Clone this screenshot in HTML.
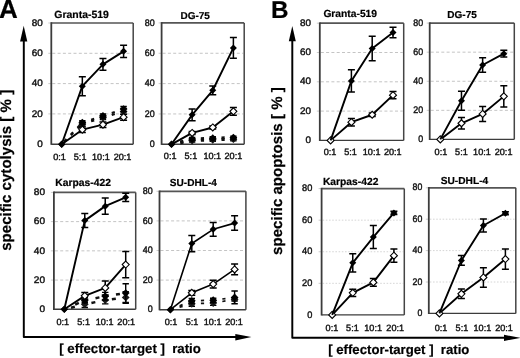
<!DOCTYPE html>
<html><head><meta charset="utf-8"><style>
html,body{margin:0;padding:0;background:#fff;overflow:hidden;}
svg{display:block;filter:grayscale(1);}
text{text-rendering:geometricPrecision;}
</style></head><body>
<svg width="520" height="358" viewBox="0 0 520 358">
<rect width="520" height="358" fill="#fff"/>
<line x1="48.3" y1="113.9" x2="51.3" y2="113.9" stroke="#ccc" stroke-width="1"/>
<line x1="52.3" y1="113.9" x2="132.2" y2="113.9" stroke="#c4c4c4" stroke-width="1" stroke-dasharray="3 2.3"/>
<line x1="48.3" y1="83.6" x2="51.3" y2="83.6" stroke="#ccc" stroke-width="1"/>
<line x1="52.3" y1="83.6" x2="132.2" y2="83.6" stroke="#c4c4c4" stroke-width="1" stroke-dasharray="3 2.3"/>
<line x1="48.3" y1="53.3" x2="51.3" y2="53.3" stroke="#ccc" stroke-width="1"/>
<line x1="52.3" y1="53.3" x2="132.2" y2="53.3" stroke="#c4c4c4" stroke-width="1" stroke-dasharray="3 2.3"/>
<line x1="48.3" y1="23" x2="51.3" y2="23" stroke="#ccc" stroke-width="1"/>
<line x1="51.3" y1="23" x2="133.2" y2="23" stroke="#555" stroke-width="1.7"/>
<line x1="133.2" y1="23" x2="133.2" y2="144.2" stroke="#454545" stroke-width="1.5"/>
<line x1="51.3" y1="22.2" x2="51.3" y2="144.8" stroke="#3c3c3c" stroke-width="1.8"/>
<line x1="51.3" y1="144.2" x2="133.2" y2="144.2" stroke="#3c3c3c" stroke-width="1.4"/>
<line x1="61.7" y1="144.2" x2="82.33" y2="124" stroke="#111" stroke-width="2.2" stroke-dasharray="3.2 6.3" stroke-dashoffset="-12.84"/>
<line x1="82.33" y1="124" x2="102.96" y2="117.6" stroke="#111" stroke-width="2.2" stroke-dasharray="3.2 6.3" stroke-dashoffset="-9.2"/>
<line x1="102.96" y1="117.6" x2="123.59" y2="111.4" stroke="#111" stroke-width="2.2" stroke-dasharray="3.2 6.3" stroke-dashoffset="-9.17"/>
<path d="M82.33,122V126M79.13,122H85.53M79.13,126H85.53" stroke="#000" stroke-width="1.4" fill="none"/>
<path d="M102.96,115.6V119.6M99.76,115.6H106.16M99.76,119.6H106.16" stroke="#000" stroke-width="1.4" fill="none"/>
<path d="M123.59,108.4V114.4M120.39,108.4H126.79M120.39,114.4H126.79" stroke="#000" stroke-width="1.4" fill="none"/>
<path d="M82.33,120.1L86.23,124L82.33,127.9L78.43,124Z" fill="#1a1a1a"/>
<path d="M102.96,113.7L106.86,117.6L102.96,121.5L99.06,117.6Z" fill="#1a1a1a"/>
<path d="M123.59,107.5L127.49,111.4L123.59,115.3L119.69,111.4Z" fill="#1a1a1a"/>
<line x1="61.7" y1="144.2" x2="82.33" y2="122.6" stroke="#111" stroke-width="2.2" stroke-dasharray="3.2 6.3" stroke-dashoffset="-13.33"/>
<line x1="82.33" y1="122.6" x2="102.96" y2="116" stroke="#111" stroke-width="2.2" stroke-dasharray="3.2 6.3" stroke-dashoffset="-9.23"/>
<line x1="102.96" y1="116" x2="123.59" y2="109.1" stroke="#111" stroke-width="2.2" stroke-dasharray="3.2 6.3" stroke-dashoffset="-9.28"/>
<path d="M82.33,120.6V124.6M79.13,120.6H85.53M79.13,124.6H85.53" stroke="#000" stroke-width="1.4" fill="none"/>
<path d="M102.96,114V118M99.76,114H106.16M99.76,118H106.16" stroke="#000" stroke-width="1.4" fill="none"/>
<path d="M123.59,106.5V111.7M120.39,106.5H126.79M120.39,111.7H126.79" stroke="#000" stroke-width="1.4" fill="none"/>
<path d="M82.33,118.7L86.23,122.6L82.33,126.5L78.43,122.6Z" fill="#000"/>
<path d="M102.96,112.1L106.86,116L102.96,119.9L99.06,116Z" fill="#000"/>
<path d="M123.59,105.2L127.49,109.1L123.59,113L119.69,109.1Z" fill="#000"/>
<polyline points="61.7,144.2 82.33,129.66 102.96,124.66 123.59,117.23" fill="none" stroke="#000" stroke-width="1.9" stroke-linejoin="round"/>
<path d="M82.33,126.93V132.38M78.83,126.93H85.83M78.83,132.38H85.83" stroke="#000" stroke-width="1.5" fill="none"/>
<path d="M102.96,121.93V127.38M99.46,121.93H106.46M99.46,127.38H106.46" stroke="#000" stroke-width="1.5" fill="none"/>
<path d="M123.59,114.2V120.26M120.09,114.2H127.09M120.09,120.26H127.09" stroke="#000" stroke-width="1.5" fill="none"/>
<path d="M82.33,126.16L85.83,129.66L82.33,133.16L78.83,129.66Z" fill="#fff" stroke="#000" stroke-width="1.1"/>
<path d="M102.96,121.16L106.46,124.66L102.96,128.16L99.46,124.66Z" fill="#fff" stroke="#000" stroke-width="1.1"/>
<path d="M123.59,113.73L127.09,117.23L123.59,120.73L120.09,117.23Z" fill="#fff" stroke="#000" stroke-width="1.1"/>
<polyline points="61.7,144.2 82.33,86.18 102.96,64.36 123.59,51.33" fill="none" stroke="#000" stroke-width="1.9" stroke-linejoin="round"/>
<path d="M82.33,76.63V95.72M78.83,76.63H85.83M78.83,95.72H85.83" stroke="#000" stroke-width="1.5" fill="none"/>
<path d="M102.96,58.45V70.27M99.46,58.45H106.46M99.46,70.27H106.46" stroke="#000" stroke-width="1.5" fill="none"/>
<path d="M123.59,45.27V57.39M120.09,45.27H127.09M120.09,57.39H127.09" stroke="#000" stroke-width="1.5" fill="none"/>
<path d="M61.7,140.7L65.2,144.2L61.7,147.7L58.2,144.2Z" fill="#000"/>
<path d="M82.33,82.68L85.83,86.18L82.33,89.68L78.83,86.18Z" fill="#000"/>
<path d="M102.96,60.86L106.46,64.36L102.96,67.86L99.46,64.36Z" fill="#000"/>
<path d="M123.59,47.83L127.09,51.33L123.59,54.83L120.09,51.33Z" fill="#000"/>
<path d="M61.7,140.5L65.4,144.2L61.7,147.9L58,144.2Z" fill="#000"/>
<line x1="158.6" y1="113.95" x2="161.6" y2="113.95" stroke="#ccc" stroke-width="1"/>
<line x1="162.6" y1="113.95" x2="243.2" y2="113.95" stroke="#c4c4c4" stroke-width="1" stroke-dasharray="3 2.3"/>
<line x1="158.6" y1="83.6" x2="161.6" y2="83.6" stroke="#ccc" stroke-width="1"/>
<line x1="162.6" y1="83.6" x2="243.2" y2="83.6" stroke="#c4c4c4" stroke-width="1" stroke-dasharray="3 2.3"/>
<line x1="158.6" y1="53.25" x2="161.6" y2="53.25" stroke="#ccc" stroke-width="1"/>
<line x1="162.6" y1="53.25" x2="243.2" y2="53.25" stroke="#c4c4c4" stroke-width="1" stroke-dasharray="3 2.3"/>
<line x1="158.6" y1="22.9" x2="161.6" y2="22.9" stroke="#ccc" stroke-width="1"/>
<line x1="161.6" y1="22.9" x2="244.2" y2="22.9" stroke="#555" stroke-width="1.7"/>
<line x1="244.2" y1="22.9" x2="244.2" y2="144.3" stroke="#454545" stroke-width="1.5"/>
<line x1="161.6" y1="22.1" x2="161.6" y2="144.9" stroke="#3c3c3c" stroke-width="1.8"/>
<line x1="161.6" y1="144.3" x2="244.2" y2="144.3" stroke="#3c3c3c" stroke-width="1.4"/>
<line x1="171.5" y1="144.3" x2="192.13" y2="140.6" stroke="#111" stroke-width="3.0" stroke-dasharray="3.2 6.3" stroke-dashoffset="-8.88"/>
<line x1="192.13" y1="140.6" x2="212.76" y2="139.8" stroke="#111" stroke-width="3.0" stroke-dasharray="3.2 6.3" stroke-dashoffset="-8.72"/>
<line x1="212.76" y1="139.8" x2="233.39" y2="139.2" stroke="#111" stroke-width="3.0" stroke-dasharray="3.2 6.3" stroke-dashoffset="-8.72"/>
<path d="M192.13,139.1V142.1M188.93,139.1H195.33M188.93,142.1H195.33" stroke="#000" stroke-width="1.4" fill="none"/>
<path d="M212.76,138.3V141.3M209.56,138.3H215.96M209.56,141.3H215.96" stroke="#000" stroke-width="1.4" fill="none"/>
<path d="M233.39,137.7V140.7M230.19,137.7H236.59M230.19,140.7H236.59" stroke="#000" stroke-width="1.4" fill="none"/>
<path d="M192.13,136.7L196.03,140.6L192.13,144.5L188.23,140.6Z" fill="#1a1a1a"/>
<path d="M212.76,135.9L216.66,139.8L212.76,143.7L208.86,139.8Z" fill="#1a1a1a"/>
<path d="M233.39,135.3L237.29,139.2L233.39,143.1L229.49,139.2Z" fill="#1a1a1a"/>
<line x1="171.5" y1="144.3" x2="192.13" y2="139" stroke="#111" stroke-width="3.0" stroke-dasharray="3.2 6.3" stroke-dashoffset="-9.05"/>
<line x1="192.13" y1="139" x2="212.76" y2="138.2" stroke="#111" stroke-width="3.0" stroke-dasharray="3.2 6.3" stroke-dashoffset="-8.72"/>
<line x1="212.76" y1="138.2" x2="233.39" y2="137.6" stroke="#111" stroke-width="3.0" stroke-dasharray="3.2 6.3" stroke-dashoffset="-8.72"/>
<path d="M192.13,137.5V140.5M188.93,137.5H195.33M188.93,140.5H195.33" stroke="#000" stroke-width="1.4" fill="none"/>
<path d="M212.76,136.7V139.7M209.56,136.7H215.96M209.56,139.7H215.96" stroke="#000" stroke-width="1.4" fill="none"/>
<path d="M233.39,136.1V139.1M230.19,136.1H236.59M230.19,139.1H236.59" stroke="#000" stroke-width="1.4" fill="none"/>
<path d="M192.13,135.1L196.03,139L192.13,142.9L188.23,139Z" fill="#000"/>
<path d="M212.76,134.3L216.66,138.2L212.76,142.1L208.86,138.2Z" fill="#000"/>
<path d="M233.39,133.7L237.29,137.6L233.39,141.5L229.49,137.6Z" fill="#000"/>
<polyline points="171.5,144.3 192.13,132.92 212.76,127.46 233.39,111.37" fill="none" stroke="#000" stroke-width="1.9" stroke-linejoin="round"/>
<path d="M192.13,131.4V134.44M188.63,131.4H195.63M188.63,134.44H195.63" stroke="#000" stroke-width="1.5" fill="none"/>
<path d="M212.76,125.94V128.97M209.26,125.94H216.26M209.26,128.97H216.26" stroke="#000" stroke-width="1.5" fill="none"/>
<path d="M233.39,107.58V115.16M229.89,107.58H236.89M229.89,115.16H236.89" stroke="#000" stroke-width="1.5" fill="none"/>
<path d="M192.13,129.42L195.63,132.92L192.13,136.42L188.63,132.92Z" fill="#fff" stroke="#000" stroke-width="1.1"/>
<path d="M212.76,123.96L216.26,127.46L212.76,130.96L209.26,127.46Z" fill="#fff" stroke="#000" stroke-width="1.1"/>
<path d="M233.39,107.87L236.89,111.37L233.39,114.87L229.89,111.37Z" fill="#fff" stroke="#000" stroke-width="1.1"/>
<polyline points="171.5,144.3 192.13,114.86 212.76,90.28 233.39,47.94" fill="none" stroke="#000" stroke-width="1.9" stroke-linejoin="round"/>
<path d="M192.13,109.09V120.63M188.63,109.09H195.63M188.63,120.63H195.63" stroke="#000" stroke-width="1.5" fill="none"/>
<path d="M212.76,85.88V94.68M209.26,85.88H216.26M209.26,94.68H216.26" stroke="#000" stroke-width="1.5" fill="none"/>
<path d="M233.39,37.62V58.26M229.89,37.62H236.89M229.89,58.26H236.89" stroke="#000" stroke-width="1.5" fill="none"/>
<path d="M171.5,140.8L175,144.3L171.5,147.8L168,144.3Z" fill="#000"/>
<path d="M192.13,111.36L195.63,114.86L192.13,118.36L188.63,114.86Z" fill="#000"/>
<path d="M212.76,86.78L216.26,90.28L212.76,93.78L209.26,90.28Z" fill="#000"/>
<path d="M233.39,44.44L236.89,47.94L233.39,51.44L229.89,47.94Z" fill="#000"/>
<path d="M171.5,140.6L175.2,144.3L171.5,148L167.8,144.3Z" fill="#000"/>
<line x1="50.9" y1="280.07" x2="53.9" y2="280.07" stroke="#ccc" stroke-width="1"/>
<line x1="54.9" y1="280.07" x2="134.7" y2="280.07" stroke="#c4c4c4" stroke-width="1" stroke-dasharray="3 2.3"/>
<line x1="50.9" y1="250.85" x2="53.9" y2="250.85" stroke="#ccc" stroke-width="1"/>
<line x1="54.9" y1="250.85" x2="134.7" y2="250.85" stroke="#c4c4c4" stroke-width="1" stroke-dasharray="3 2.3"/>
<line x1="50.9" y1="221.62" x2="53.9" y2="221.62" stroke="#ccc" stroke-width="1"/>
<line x1="54.9" y1="221.62" x2="134.7" y2="221.62" stroke="#c4c4c4" stroke-width="1" stroke-dasharray="3 2.3"/>
<line x1="50.9" y1="192.4" x2="53.9" y2="192.4" stroke="#ccc" stroke-width="1"/>
<line x1="53.9" y1="192.4" x2="135.7" y2="192.4" stroke="#555" stroke-width="1.7"/>
<line x1="135.7" y1="192.4" x2="135.7" y2="309.3" stroke="#454545" stroke-width="1.5"/>
<line x1="53.9" y1="191.6" x2="53.9" y2="309.9" stroke="#3c3c3c" stroke-width="1.8"/>
<line x1="53.9" y1="309.3" x2="135.7" y2="309.3" stroke="#3c3c3c" stroke-width="1.4"/>
<line x1="64.3" y1="309.3" x2="84.77" y2="304.3" stroke="#111" stroke-width="2.5" stroke-dasharray="4 9" stroke-dashoffset="-6.85"/>
<line x1="84.77" y1="304.3" x2="105.24" y2="300.1" stroke="#111" stroke-width="2.5" stroke-dasharray="4 9" stroke-dashoffset="-6.78"/>
<line x1="105.24" y1="300.1" x2="125.71" y2="297.4" stroke="#111" stroke-width="2.5" stroke-dasharray="4 9" stroke-dashoffset="-6.67"/>
<path d="M84.77,301.1V307.5M81.57,301.1H87.97M81.57,307.5H87.97" stroke="#000" stroke-width="1.4" fill="none"/>
<path d="M105.24,296.3V303.9M102.04,296.3H108.44M102.04,303.9H108.44" stroke="#000" stroke-width="1.4" fill="none"/>
<path d="M125.71,291.6V303.2M122.51,291.6H128.91M122.51,303.2H128.91" stroke="#000" stroke-width="1.4" fill="none"/>
<path d="M84.77,300.4L88.67,304.3L84.77,308.2L80.87,304.3Z" fill="#1a1a1a"/>
<path d="M105.24,296.2L109.14,300.1L105.24,304L101.34,300.1Z" fill="#1a1a1a"/>
<path d="M125.71,293.5L129.61,297.4L125.71,301.3L121.81,297.4Z" fill="#1a1a1a"/>
<line x1="64.3" y1="309.3" x2="84.77" y2="300.3" stroke="#111" stroke-width="2.5" stroke-dasharray="4 9" stroke-dashoffset="-11.86"/>
<line x1="84.77" y1="300.3" x2="105.24" y2="296.2" stroke="#111" stroke-width="2.5" stroke-dasharray="4 9" stroke-dashoffset="-10.94"/>
<line x1="105.24" y1="296.2" x2="125.71" y2="293.1" stroke="#111" stroke-width="2.5" stroke-dasharray="4 9" stroke-dashoffset="-10.84"/>
<path d="M84.77,297.8V302.8M81.57,297.8H87.97M81.57,302.8H87.97" stroke="#000" stroke-width="1.4" fill="none"/>
<path d="M105.24,292.4V300M102.04,292.4H108.44M102.04,300H108.44" stroke="#000" stroke-width="1.4" fill="none"/>
<path d="M125.71,283.7V302.5M122.51,283.7H128.91M122.51,302.5H128.91" stroke="#000" stroke-width="1.4" fill="none"/>
<path d="M84.77,296.4L88.67,300.3L84.77,304.2L80.87,300.3Z" fill="#000"/>
<path d="M105.24,292.3L109.14,296.2L105.24,300.1L101.34,296.2Z" fill="#000"/>
<path d="M125.71,289.2L129.61,293.1L125.71,297L121.81,293.1Z" fill="#000"/>
<polyline points="64.3,309.3 84.77,295.86 105.24,287.97 125.71,264.59" fill="none" stroke="#000" stroke-width="1.9" stroke-linejoin="round"/>
<path d="M84.77,292.5V299.22M81.27,292.5H88.27M81.27,299.22H88.27" stroke="#000" stroke-width="1.5" fill="none"/>
<path d="M105.24,280.95V294.98M101.74,280.95H108.74M101.74,294.98H108.74" stroke="#000" stroke-width="1.5" fill="none"/>
<path d="M125.71,251.43V277.74M122.21,251.43H129.21M122.21,277.74H129.21" stroke="#000" stroke-width="1.5" fill="none"/>
<path d="M84.77,292.36L88.27,295.86L84.77,299.36L81.27,295.86Z" fill="#fff" stroke="#000" stroke-width="1.1"/>
<path d="M105.24,284.47L108.74,287.97L105.24,291.47L101.74,287.97Z" fill="#fff" stroke="#000" stroke-width="1.1"/>
<path d="M125.71,261.09L129.21,264.59L125.71,268.09L122.21,264.59Z" fill="#fff" stroke="#000" stroke-width="1.1"/>
<polyline points="64.3,309.3 84.77,220.6 105.24,206.14 125.71,197.37" fill="none" stroke="#000" stroke-width="1.9" stroke-linejoin="round"/>
<path d="M84.77,213.59V227.62M81.27,213.59H88.27M81.27,227.62H88.27" stroke="#000" stroke-width="1.5" fill="none"/>
<path d="M105.24,198.1V214.17M101.74,198.1H108.74M101.74,214.17H108.74" stroke="#000" stroke-width="1.5" fill="none"/>
<path d="M125.71,193.13V201.61M122.21,193.13H129.21M122.21,201.61H129.21" stroke="#000" stroke-width="1.5" fill="none"/>
<path d="M64.3,305.8L67.8,309.3L64.3,312.8L60.8,309.3Z" fill="#000"/>
<path d="M84.77,217.1L88.27,220.6L84.77,224.1L81.27,220.6Z" fill="#000"/>
<path d="M105.24,202.64L108.74,206.14L105.24,209.64L101.74,206.14Z" fill="#000"/>
<path d="M125.71,193.87L129.21,197.37L125.71,200.87L122.21,197.37Z" fill="#000"/>
<path d="M64.3,305.6L68,309.3L64.3,313L60.6,309.3Z" fill="#000"/>
<line x1="156.5" y1="280.1" x2="159.5" y2="280.1" stroke="#ccc" stroke-width="1"/>
<line x1="160.5" y1="280.1" x2="244.9" y2="280.1" stroke="#c4c4c4" stroke-width="1" stroke-dasharray="3 2.3"/>
<line x1="156.5" y1="250.5" x2="159.5" y2="250.5" stroke="#ccc" stroke-width="1"/>
<line x1="160.5" y1="250.5" x2="244.9" y2="250.5" stroke="#c4c4c4" stroke-width="1" stroke-dasharray="3 2.3"/>
<line x1="156.5" y1="220.9" x2="159.5" y2="220.9" stroke="#ccc" stroke-width="1"/>
<line x1="160.5" y1="220.9" x2="244.9" y2="220.9" stroke="#c4c4c4" stroke-width="1" stroke-dasharray="3 2.3"/>
<line x1="156.5" y1="191.3" x2="159.5" y2="191.3" stroke="#ccc" stroke-width="1"/>
<line x1="159.5" y1="191.3" x2="245.9" y2="191.3" stroke="#555" stroke-width="1.7"/>
<line x1="245.9" y1="191.3" x2="245.9" y2="309.7" stroke="#454545" stroke-width="1.5"/>
<line x1="159.5" y1="190.5" x2="159.5" y2="310.3" stroke="#3c3c3c" stroke-width="1.8"/>
<line x1="159.5" y1="309.7" x2="245.9" y2="309.7" stroke="#3c3c3c" stroke-width="1.4"/>
<line x1="170.4" y1="309.7" x2="191.8" y2="303.8" stroke="#111" stroke-width="1.7" stroke-dasharray="3.2 6.3" stroke-dashoffset="-9.5"/>
<line x1="191.8" y1="303.8" x2="213.2" y2="303" stroke="#111" stroke-width="1.7" stroke-dasharray="3.2 6.3" stroke-dashoffset="-9.11"/>
<line x1="213.2" y1="303" x2="234.6" y2="299.4" stroke="#111" stroke-width="1.7" stroke-dasharray="3.2 6.3" stroke-dashoffset="-9.25"/>
<path d="M191.8,301.4V306.2M188.6,301.4H195M188.6,306.2H195" stroke="#000" stroke-width="1.4" fill="none"/>
<path d="M213.2,300.6V305.4M210,300.6H216.4M210,305.4H216.4" stroke="#000" stroke-width="1.4" fill="none"/>
<path d="M234.6,297.8V301M231.4,297.8H237.8M231.4,301H237.8" stroke="#000" stroke-width="1.4" fill="none"/>
<path d="M191.8,299.9L195.7,303.8L191.8,307.7L187.9,303.8Z" fill="#1a1a1a"/>
<path d="M213.2,299.1L217.1,303L213.2,306.9L209.3,303Z" fill="#1a1a1a"/>
<path d="M234.6,295.5L238.5,299.4L234.6,303.3L230.7,299.4Z" fill="#1a1a1a"/>
<line x1="170.4" y1="309.7" x2="191.8" y2="300.8" stroke="#111" stroke-width="1.7" stroke-dasharray="3.2 6.3" stroke-dashoffset="-9.99"/>
<line x1="191.8" y1="300.8" x2="213.2" y2="300.2" stroke="#111" stroke-width="1.7" stroke-dasharray="3.2 6.3" stroke-dashoffset="-9.1"/>
<line x1="213.2" y1="300.2" x2="234.6" y2="297.4" stroke="#111" stroke-width="1.7" stroke-dasharray="3.2 6.3" stroke-dashoffset="-9.19"/>
<path d="M191.8,298.5V303.1M188.6,298.5H195M188.6,303.1H195" stroke="#000" stroke-width="1.4" fill="none"/>
<path d="M213.2,298.2V302.2M210,298.2H216.4M210,302.2H216.4" stroke="#000" stroke-width="1.4" fill="none"/>
<path d="M234.6,291V303.8M231.4,291H237.8M231.4,303.8H237.8" stroke="#000" stroke-width="1.4" fill="none"/>
<path d="M191.8,296.9L195.7,300.8L191.8,304.7L187.9,300.8Z" fill="#000"/>
<path d="M213.2,296.3L217.1,300.2L213.2,304.1L209.3,300.2Z" fill="#000"/>
<path d="M234.6,293.5L238.5,297.4L234.6,301.3L230.7,297.4Z" fill="#000"/>
<polyline points="170.4,309.7 191.8,292.83 213.2,284.1 234.6,269.44" fill="none" stroke="#000" stroke-width="1.6" stroke-linejoin="round"/>
<path d="M191.8,290.46V295.2M188.3,290.46H195.3M188.3,295.2H195.3" stroke="#000" stroke-width="1.5" fill="none"/>
<path d="M213.2,280.25V287.94M209.7,280.25H216.7M209.7,287.94H216.7" stroke="#000" stroke-width="1.5" fill="none"/>
<path d="M234.6,264.12V274.77M231.1,264.12H238.1M231.1,274.77H238.1" stroke="#000" stroke-width="1.5" fill="none"/>
<path d="M191.8,289.33L195.3,292.83L191.8,296.33L188.3,292.83Z" fill="#fff" stroke="#000" stroke-width="1.1"/>
<path d="M213.2,280.6L216.7,284.1L213.2,287.6L209.7,284.1Z" fill="#fff" stroke="#000" stroke-width="1.1"/>
<path d="M234.6,265.94L238.1,269.44L234.6,272.94L231.1,269.44Z" fill="#fff" stroke="#000" stroke-width="1.1"/>
<polyline points="170.4,309.7 191.8,243.54 213.2,229.34 234.6,223.12" fill="none" stroke="#000" stroke-width="1.6" stroke-linejoin="round"/>
<path d="M191.8,235.4V251.68M188.3,235.4H195.3M188.3,251.68H195.3" stroke="#000" stroke-width="1.5" fill="none"/>
<path d="M213.2,222.53V236.14M209.7,222.53H216.7M209.7,236.14H216.7" stroke="#000" stroke-width="1.5" fill="none"/>
<path d="M234.6,215.87V230.37M231.1,215.87H238.1M231.1,230.37H238.1" stroke="#000" stroke-width="1.5" fill="none"/>
<path d="M170.4,306.2L173.9,309.7L170.4,313.2L166.9,309.7Z" fill="#000"/>
<path d="M191.8,240.04L195.3,243.54L191.8,247.04L188.3,243.54Z" fill="#000"/>
<path d="M213.2,225.84L216.7,229.34L213.2,232.84L209.7,229.34Z" fill="#000"/>
<path d="M234.6,219.62L238.1,223.12L234.6,226.62L231.1,223.12Z" fill="#000"/>
<path d="M170.4,306L174.1,309.7L170.4,313.4L166.7,309.7Z" fill="#000"/>
<line x1="316.8" y1="111.1" x2="319.8" y2="111.1" stroke="#ccc" stroke-width="1"/>
<line x1="320.8" y1="111.1" x2="402.7" y2="111.1" stroke="#c4c4c4" stroke-width="1" stroke-dasharray="3 2.3"/>
<line x1="316.8" y1="81.8" x2="319.8" y2="81.8" stroke="#ccc" stroke-width="1"/>
<line x1="320.8" y1="81.8" x2="402.7" y2="81.8" stroke="#c4c4c4" stroke-width="1" stroke-dasharray="3 2.3"/>
<line x1="316.8" y1="52.5" x2="319.8" y2="52.5" stroke="#ccc" stroke-width="1"/>
<line x1="320.8" y1="52.5" x2="402.7" y2="52.5" stroke="#c4c4c4" stroke-width="1" stroke-dasharray="3 2.3"/>
<line x1="316.8" y1="23.2" x2="319.8" y2="23.2" stroke="#ccc" stroke-width="1"/>
<line x1="319.8" y1="23.2" x2="403.7" y2="23.2" stroke="#555" stroke-width="1.7"/>
<line x1="403.7" y1="23.2" x2="403.7" y2="140.4" stroke="#454545" stroke-width="1.5"/>
<line x1="319.8" y1="22.4" x2="319.8" y2="141" stroke="#3c3c3c" stroke-width="1.8"/>
<line x1="319.8" y1="140.4" x2="403.7" y2="140.4" stroke="#3c3c3c" stroke-width="1.4"/>
<polyline points="330.6,140.4 351.4,122.23 372.2,114.76 393,95.13" fill="none" stroke="#000" stroke-width="1.9" stroke-linejoin="round"/>
<path d="M351.4,118.43V126.04M347.9,118.43H354.9M347.9,126.04H354.9" stroke="#000" stroke-width="1.5" fill="none"/>
<path d="M372.2,113V116.52M368.7,113H375.7M368.7,116.52H375.7" stroke="#000" stroke-width="1.5" fill="none"/>
<path d="M393,91.47V98.79M389.5,91.47H396.5M389.5,98.79H396.5" stroke="#000" stroke-width="1.5" fill="none"/>
<path d="M330.6,136.9L334.1,140.4L330.6,143.9L327.1,140.4Z" fill="#fff" stroke="#000" stroke-width="1.1"/>
<path d="M351.4,118.73L354.9,122.23L351.4,125.73L347.9,122.23Z" fill="#fff" stroke="#000" stroke-width="1.1"/>
<path d="M372.2,111.26L375.7,114.76L372.2,118.26L368.7,114.76Z" fill="#fff" stroke="#000" stroke-width="1.1"/>
<path d="M393,91.63L396.5,95.13L393,98.63L389.5,95.13Z" fill="#fff" stroke="#000" stroke-width="1.1"/>
<polyline points="330.6,140.4 351.4,80.92 372.2,48.54 393,32.58" fill="none" stroke="#000" stroke-width="1.9" stroke-linejoin="round"/>
<path d="M351.4,69.79V92.06M347.9,69.79H354.9M347.9,92.06H354.9" stroke="#000" stroke-width="1.5" fill="none"/>
<path d="M372.2,36.24V60.85M368.7,36.24H375.7M368.7,60.85H375.7" stroke="#000" stroke-width="1.5" fill="none"/>
<path d="M393,27.3V37.85M389.5,27.3H396.5M389.5,37.85H396.5" stroke="#000" stroke-width="1.5" fill="none"/>
<path d="M351.4,77.42L354.9,80.92L351.4,84.42L347.9,80.92Z" fill="#000"/>
<path d="M372.2,45.04L375.7,48.54L372.2,52.04L368.7,48.54Z" fill="#000"/>
<path d="M393,29.08L396.5,32.58L393,36.08L389.5,32.58Z" fill="#000"/>
<line x1="426.7" y1="110.33" x2="429.7" y2="110.33" stroke="#ccc" stroke-width="1"/>
<line x1="430.7" y1="110.33" x2="513.3" y2="110.33" stroke="#c4c4c4" stroke-width="1" stroke-dasharray="3 2.3"/>
<line x1="426.7" y1="81.25" x2="429.7" y2="81.25" stroke="#ccc" stroke-width="1"/>
<line x1="430.7" y1="81.25" x2="513.3" y2="81.25" stroke="#c4c4c4" stroke-width="1" stroke-dasharray="3 2.3"/>
<line x1="426.7" y1="52.17" x2="429.7" y2="52.17" stroke="#ccc" stroke-width="1"/>
<line x1="430.7" y1="52.17" x2="513.3" y2="52.17" stroke="#c4c4c4" stroke-width="1" stroke-dasharray="3 2.3"/>
<line x1="426.7" y1="23.1" x2="429.7" y2="23.1" stroke="#ccc" stroke-width="1"/>
<line x1="429.7" y1="23.1" x2="514.3" y2="23.1" stroke="#555" stroke-width="1.7"/>
<line x1="514.3" y1="23.1" x2="514.3" y2="139.4" stroke="#454545" stroke-width="1.5"/>
<line x1="429.7" y1="22.3" x2="429.7" y2="140" stroke="#3c3c3c" stroke-width="1.8"/>
<line x1="429.7" y1="139.4" x2="514.3" y2="139.4" stroke="#3c3c3c" stroke-width="1.4"/>
<polyline points="440.3,139.4 461.47,123.26 482.64,113.96 503.81,96.37" fill="none" stroke="#000" stroke-width="1.9" stroke-linejoin="round"/>
<path d="M461.47,117.45V129.08M457.97,117.45H464.97M457.97,129.08H464.97" stroke="#000" stroke-width="1.5" fill="none"/>
<path d="M482.64,106.4V121.52M479.14,106.4H486.14M479.14,121.52H486.14" stroke="#000" stroke-width="1.5" fill="none"/>
<path d="M503.81,85.76V106.98M500.31,85.76H507.31M500.31,106.98H507.31" stroke="#000" stroke-width="1.5" fill="none"/>
<path d="M440.3,135.9L443.8,139.4L440.3,142.9L436.8,139.4Z" fill="#fff" stroke="#000" stroke-width="1.1"/>
<path d="M461.47,119.76L464.97,123.26L461.47,126.76L457.97,123.26Z" fill="#fff" stroke="#000" stroke-width="1.1"/>
<path d="M482.64,110.46L486.14,113.96L482.64,117.46L479.14,113.96Z" fill="#fff" stroke="#000" stroke-width="1.1"/>
<path d="M503.81,92.87L507.31,96.37L503.81,99.87L500.31,96.37Z" fill="#fff" stroke="#000" stroke-width="1.1"/>
<polyline points="440.3,139.4 461.47,100.73 482.64,64.97 503.81,53.63" fill="none" stroke="#000" stroke-width="1.9" stroke-linejoin="round"/>
<path d="M461.47,91.28V110.18M457.97,91.28H464.97M457.97,110.18H464.97" stroke="#000" stroke-width="1.5" fill="none"/>
<path d="M482.64,57.7V72.24M479.14,57.7H486.14M479.14,72.24H486.14" stroke="#000" stroke-width="1.5" fill="none"/>
<path d="M503.81,50.14V57.12M500.31,50.14H507.31M500.31,57.12H507.31" stroke="#000" stroke-width="1.5" fill="none"/>
<path d="M461.47,97.23L464.97,100.73L461.47,104.23L457.97,100.73Z" fill="#000"/>
<path d="M482.64,61.47L486.14,64.97L482.64,68.47L479.14,64.97Z" fill="#000"/>
<path d="M503.81,50.13L507.31,53.63L503.81,57.13L500.31,53.63Z" fill="#000"/>
<line x1="318.6" y1="283.32" x2="321.6" y2="283.32" stroke="#ccc" stroke-width="1"/>
<line x1="322.6" y1="283.32" x2="403.3" y2="283.32" stroke="#d6d6d6" stroke-width="1" stroke-dasharray="1.6 1.6"/>
<line x1="318.6" y1="251.75" x2="321.6" y2="251.75" stroke="#ccc" stroke-width="1"/>
<line x1="322.6" y1="251.75" x2="403.3" y2="251.75" stroke="#d6d6d6" stroke-width="1" stroke-dasharray="1.6 1.6"/>
<line x1="318.6" y1="220.17" x2="321.6" y2="220.17" stroke="#ccc" stroke-width="1"/>
<line x1="322.6" y1="220.17" x2="403.3" y2="220.17" stroke="#d6d6d6" stroke-width="1" stroke-dasharray="1.6 1.6"/>
<line x1="318.6" y1="188.6" x2="321.6" y2="188.6" stroke="#ccc" stroke-width="1"/>
<line x1="321.6" y1="188.6" x2="404.3" y2="188.6" stroke="#555" stroke-width="1.7"/>
<line x1="404.3" y1="188.6" x2="404.3" y2="314.9" stroke="#454545" stroke-width="1.5"/>
<line x1="321.6" y1="187.8" x2="321.6" y2="315.5" stroke="#3c3c3c" stroke-width="1.8"/>
<line x1="321.6" y1="314.9" x2="404.3" y2="314.9" stroke="#3c3c3c" stroke-width="1.4"/>
<polyline points="332.2,314.9 352.77,292.8 373.34,282.38 393.91,255.7" fill="none" stroke="#000" stroke-width="1.9" stroke-linejoin="round"/>
<path d="M352.77,289.17V296.43M349.27,289.17H356.27M349.27,296.43H356.27" stroke="#000" stroke-width="1.5" fill="none"/>
<path d="M373.34,278.43V286.32M369.84,278.43H376.84M369.84,286.32H376.84" stroke="#000" stroke-width="1.5" fill="none"/>
<path d="M393.91,249.07V262.33M390.41,249.07H397.41M390.41,262.33H397.41" stroke="#000" stroke-width="1.5" fill="none"/>
<path d="M332.2,311.4L335.7,314.9L332.2,318.4L328.7,314.9Z" fill="#fff" stroke="#000" stroke-width="1.1"/>
<path d="M352.77,289.3L356.27,292.8L352.77,296.3L349.27,292.8Z" fill="#fff" stroke="#000" stroke-width="1.1"/>
<path d="M373.34,278.88L376.84,282.38L373.34,285.88L369.84,282.38Z" fill="#fff" stroke="#000" stroke-width="1.1"/>
<path d="M393.91,252.2L397.41,255.7L393.91,259.2L390.41,255.7Z" fill="#fff" stroke="#000" stroke-width="1.1"/>
<polyline points="332.2,314.9 352.77,262.8 373.34,237.07 393.91,212.91" fill="none" stroke="#000" stroke-width="1.9" stroke-linejoin="round"/>
<path d="M352.77,253.64V271.96M349.27,253.64H356.27M349.27,271.96H356.27" stroke="#000" stroke-width="1.5" fill="none"/>
<path d="M373.34,225.54V248.59M369.84,225.54H376.84M369.84,248.59H376.84" stroke="#000" stroke-width="1.5" fill="none"/>
<path d="M393.91,211.33V214.49M390.41,211.33H397.41M390.41,214.49H397.41" stroke="#000" stroke-width="1.5" fill="none"/>
<path d="M352.77,259.3L356.27,262.8L352.77,266.3L349.27,262.8Z" fill="#000"/>
<path d="M373.34,233.57L376.84,237.07L373.34,240.57L369.84,237.07Z" fill="#000"/>
<path d="M393.91,209.41L397.41,212.91L393.91,216.41L390.41,212.91Z" fill="#000"/>
<line x1="425.8" y1="282" x2="428.8" y2="282" stroke="#ccc" stroke-width="1"/>
<line x1="429.8" y1="282" x2="514.8" y2="282" stroke="#d6d6d6" stroke-width="1" stroke-dasharray="1.6 1.6"/>
<line x1="425.8" y1="250.6" x2="428.8" y2="250.6" stroke="#ccc" stroke-width="1"/>
<line x1="429.8" y1="250.6" x2="514.8" y2="250.6" stroke="#d6d6d6" stroke-width="1" stroke-dasharray="1.6 1.6"/>
<line x1="425.8" y1="219.2" x2="428.8" y2="219.2" stroke="#ccc" stroke-width="1"/>
<line x1="429.8" y1="219.2" x2="514.8" y2="219.2" stroke="#d6d6d6" stroke-width="1" stroke-dasharray="1.6 1.6"/>
<line x1="425.8" y1="187.8" x2="428.8" y2="187.8" stroke="#ccc" stroke-width="1"/>
<line x1="428.8" y1="187.8" x2="515.8" y2="187.8" stroke="#555" stroke-width="1.7"/>
<line x1="515.8" y1="187.8" x2="515.8" y2="313.4" stroke="#454545" stroke-width="1.5"/>
<line x1="428.8" y1="187" x2="428.8" y2="314" stroke="#3c3c3c" stroke-width="1.8"/>
<line x1="428.8" y1="313.4" x2="515.8" y2="313.4" stroke="#3c3c3c" stroke-width="1.4"/>
<polyline points="439.4,313.4 461.4,293.77 483.4,277.45 505.4,259.08" fill="none" stroke="#000" stroke-width="1.9" stroke-linejoin="round"/>
<path d="M461.4,289.06V298.48M457.9,289.06H464.9M457.9,298.48H464.9" stroke="#000" stroke-width="1.5" fill="none"/>
<path d="M483.4,267.71V287.18M479.9,267.71H486.9M479.9,287.18H486.9" stroke="#000" stroke-width="1.5" fill="none"/>
<path d="M505.4,249.03V269.13M501.9,249.03H508.9M501.9,269.13H508.9" stroke="#000" stroke-width="1.5" fill="none"/>
<path d="M439.4,309.9L442.9,313.4L439.4,316.9L435.9,313.4Z" fill="#fff" stroke="#000" stroke-width="1.1"/>
<path d="M461.4,290.27L464.9,293.77L461.4,297.27L457.9,293.77Z" fill="#fff" stroke="#000" stroke-width="1.1"/>
<path d="M483.4,273.95L486.9,277.45L483.4,280.95L479.9,277.45Z" fill="#fff" stroke="#000" stroke-width="1.1"/>
<path d="M505.4,255.58L508.9,259.08L505.4,262.58L501.9,259.08Z" fill="#fff" stroke="#000" stroke-width="1.1"/>
<polyline points="439.4,313.4 461.4,260.49 483.4,225.48 505.4,213.23" fill="none" stroke="#000" stroke-width="1.9" stroke-linejoin="round"/>
<path d="M461.4,255.62V265.36M457.9,255.62H464.9M457.9,265.36H464.9" stroke="#000" stroke-width="1.5" fill="none"/>
<path d="M483.4,219.04V231.92M479.9,219.04H486.9M479.9,231.92H486.9" stroke="#000" stroke-width="1.5" fill="none"/>
<path d="M505.4,211.66V214.8M501.9,211.66H508.9M501.9,214.8H508.9" stroke="#000" stroke-width="1.5" fill="none"/>
<path d="M461.4,256.99L464.9,260.49L461.4,263.99L457.9,260.49Z" fill="#000"/>
<path d="M483.4,221.98L486.9,225.48L483.4,228.98L479.9,225.48Z" fill="#000"/>
<path d="M505.4,209.73L508.9,213.23L505.4,216.73L501.9,213.23Z" fill="#000"/>
<path d="M23.8,41 V336.9 H237" fill="none" stroke="#000" stroke-width="1.95" stroke-linejoin="round"/>
<path d="M20.1,41.6L23.7,25.8L27.3,41.6Z" fill="#000"/>
<path d="M235.3,333.9L251.4,337.1L235.3,340.4Z" fill="#000"/>
<path d="M292.3,41 V337.7 H506" fill="none" stroke="#000" stroke-width="1.95" stroke-linejoin="round"/>
<path d="M288.8,41.2L292.3,26L295.8,41.2Z" fill="#000"/>
<path d="M504,334.8L520.5,337.9L504,341Z" fill="#000"/>
<g fill="#111" stroke="#111" stroke-width="0.4" font-family="'Liberation Sans', sans-serif">
<text transform="translate(37.23,146.85) scale(1.0426,1)" font-size="9.5" font-weight="normal">0</text>
<text transform="translate(31.72,116.55) scale(1.0426,1)" font-size="9.5" font-weight="normal">20</text>
<text transform="translate(31.72,86.25) scale(1.0426,1)" font-size="9.5" font-weight="normal">40</text>
<text transform="translate(31.72,55.95) scale(1.0426,1)" font-size="9.5" font-weight="normal">60</text>
<text transform="translate(31.72,25.65) scale(1.0426,1)" font-size="9.5" font-weight="normal">80</text>
<text x="53.17" y="159.5" font-size="9.1" font-weight="normal">0:1</text>
<text x="73.81" y="159.5" font-size="9.1" font-weight="normal">5:1</text>
<text x="92.07" y="159.5" font-size="9.1" font-weight="normal">10:1</text>
<text x="113.64" y="159.5" font-size="9.1" font-weight="normal">20:1</text>
<text transform="translate(149.68,146.95) scale(0.9404,1)" font-size="9.5" font-weight="normal">0</text>
<text transform="translate(144.71,116.6) scale(0.9404,1)" font-size="9.5" font-weight="normal">20</text>
<text transform="translate(144.71,86.25) scale(0.9404,1)" font-size="9.5" font-weight="normal">40</text>
<text transform="translate(144.71,55.9) scale(0.9404,1)" font-size="9.5" font-weight="normal">60</text>
<text transform="translate(144.71,25.55) scale(0.9404,1)" font-size="9.5" font-weight="normal">80</text>
<text x="163.87" y="159.3" font-size="9.1" font-weight="normal">0:1</text>
<text x="184.56" y="159.3" font-size="9.1" font-weight="normal">5:1</text>
<text x="203.47" y="159.3" font-size="9.1" font-weight="normal">10:1</text>
<text x="224.54" y="159.3" font-size="9.1" font-weight="normal">20:1</text>
<text transform="translate(39.48,311.95) scale(1.0631,1)" font-size="9.5" font-weight="normal">0</text>
<text transform="translate(33.86,282.72) scale(1.0631,1)" font-size="9.5" font-weight="normal">20</text>
<text transform="translate(33.86,253.5) scale(1.0631,1)" font-size="9.5" font-weight="normal">40</text>
<text transform="translate(33.86,224.28) scale(1.0631,1)" font-size="9.5" font-weight="normal">60</text>
<text transform="translate(33.86,195.05) scale(1.0631,1)" font-size="9.5" font-weight="normal">80</text>
<text x="56.52" y="324.6" font-size="9.1" font-weight="normal">0:1</text>
<text x="77.31" y="324.6" font-size="9.1" font-weight="normal">5:1</text>
<text x="95.82" y="324.6" font-size="9.1" font-weight="normal">10:1</text>
<text x="117.34" y="324.6" font-size="9.1" font-weight="normal">20:1</text>
<text transform="translate(147.78,312.35) scale(0.9404,1)" font-size="9.5" font-weight="normal">0</text>
<text transform="translate(142.81,282.75) scale(0.9404,1)" font-size="9.5" font-weight="normal">20</text>
<text transform="translate(142.81,253.15) scale(0.9404,1)" font-size="9.5" font-weight="normal">40</text>
<text transform="translate(142.81,223.55) scale(0.9404,1)" font-size="9.5" font-weight="normal">60</text>
<text transform="translate(142.81,193.95) scale(0.9404,1)" font-size="9.5" font-weight="normal">80</text>
<text x="164.72" y="324.6" font-size="9.1" font-weight="normal">0:1</text>
<text x="185.71" y="324.6" font-size="9.1" font-weight="normal">5:1</text>
<text x="203.82" y="324.6" font-size="9.1" font-weight="normal">10:1</text>
<text x="225.14" y="324.6" font-size="9.1" font-weight="normal">20:1</text>
<text transform="translate(305.48,143.05) scale(1.0426,1)" font-size="9.5" font-weight="normal">0</text>
<text transform="translate(299.97,113.75) scale(1.0426,1)" font-size="9.5" font-weight="normal">20</text>
<text transform="translate(299.97,84.45) scale(1.0426,1)" font-size="9.5" font-weight="normal">40</text>
<text transform="translate(299.97,55.15) scale(1.0426,1)" font-size="9.5" font-weight="normal">60</text>
<text transform="translate(299.97,25.85) scale(1.0426,1)" font-size="9.5" font-weight="normal">80</text>
<text x="323.67" y="155.1" font-size="9.1" font-weight="normal">0:1</text>
<text x="344.21" y="155.1" font-size="9.1" font-weight="normal">5:1</text>
<text x="362.77" y="155.1" font-size="9.1" font-weight="normal">10:1</text>
<text x="383.89" y="155.1" font-size="9.1" font-weight="normal">20:1</text>
<text transform="translate(418.13,142.05) scale(0.9302,1)" font-size="9.5" font-weight="normal">0</text>
<text transform="translate(413.22,112.98) scale(0.9302,1)" font-size="9.5" font-weight="normal">20</text>
<text transform="translate(413.22,83.9) scale(0.9302,1)" font-size="9.5" font-weight="normal">40</text>
<text transform="translate(413.22,54.82) scale(0.9302,1)" font-size="9.5" font-weight="normal">60</text>
<text transform="translate(413.22,25.75) scale(0.9302,1)" font-size="9.5" font-weight="normal">80</text>
<text x="434.62" y="155.2" font-size="9.1" font-weight="normal">0:1</text>
<text x="455.11" y="155.2" font-size="9.1" font-weight="normal">5:1</text>
<text x="473.12" y="155.2" font-size="9.1" font-weight="normal">10:1</text>
<text x="494.74" y="155.2" font-size="9.1" font-weight="normal">20:1</text>
<text transform="translate(307.13,317.55) scale(0.9711,1)" font-size="9.5" font-weight="normal">0</text>
<text transform="translate(302,285.97) scale(0.9711,1)" font-size="9.5" font-weight="normal">20</text>
<text transform="translate(302,254.4) scale(0.9711,1)" font-size="9.5" font-weight="normal">40</text>
<text transform="translate(302,222.82) scale(0.9711,1)" font-size="9.5" font-weight="normal">60</text>
<text transform="translate(302,191.25) scale(0.9711,1)" font-size="9.5" font-weight="normal">80</text>
<text x="325.62" y="330.6" font-size="9.1" font-weight="normal">0:1</text>
<text x="346.11" y="330.6" font-size="9.1" font-weight="normal">5:1</text>
<text x="364.32" y="330.6" font-size="9.1" font-weight="normal">10:1</text>
<text x="386.34" y="330.6" font-size="9.1" font-weight="normal">20:1</text>
<text transform="translate(417.48,316.05) scale(0.9200,1)" font-size="9.5" font-weight="normal">0</text>
<text transform="translate(412.62,284.65) scale(0.9200,1)" font-size="9.5" font-weight="normal">20</text>
<text transform="translate(412.62,253.25) scale(0.9200,1)" font-size="9.5" font-weight="normal">40</text>
<text transform="translate(412.62,221.85) scale(0.9200,1)" font-size="9.5" font-weight="normal">60</text>
<text transform="translate(412.62,190.45) scale(0.9200,1)" font-size="9.5" font-weight="normal">80</text>
<text x="434.72" y="330.9" font-size="9.1" font-weight="normal">0:1</text>
<text x="455.61" y="330.9" font-size="9.1" font-weight="normal">5:1</text>
<text x="473.52" y="330.9" font-size="9.1" font-weight="normal">10:1</text>
<text x="495.14" y="330.9" font-size="9.1" font-weight="normal">20:1</text>
</g>
<g fill="#000" stroke="#000" stroke-width="0.2" font-family="'Liberation Sans', sans-serif">
<text x="54.37" y="18.2" font-size="10.45" font-weight="bold">Granta-519</text>
<text x="180.43" y="19.4" font-size="10" font-weight="bold">DG-75</text>
<text x="55.31" y="186" font-size="10.33" font-weight="bold">Karpas-422</text>
<text x="169.81" y="185.5" font-size="10.1" font-weight="bold">SU-DHL-4</text>
<text x="323.38" y="16.8" font-size="10.28" font-weight="bold">Granta-519</text>
<text x="447.33" y="17.8" font-size="10.03" font-weight="bold">DG-75</text>
<text x="322.91" y="184.6" font-size="10.29" font-weight="bold">Karpas-422</text>
<text x="440.71" y="183.5" font-size="10.19" font-weight="bold">SU-DHL-4</text>
<text x="-1.09" y="17.6" font-size="26" font-weight="bold">A</text>
<text x="271.08" y="18" font-size="24.27" font-weight="bold">B</text>
<text x="59.26" y="353.4" font-size="13.21" font-weight="bold" xml:space="preserve">[ effector-target ]  ratio</text>
<text x="328.26" y="354.3" font-size="13.17" font-weight="bold" xml:space="preserve">[ effector-target ]  ratio</text>
<text transform="translate(11.3,250.83) rotate(-90)" font-size="15.1" font-weight="bold">specific cytolysis [ % ]</text>
<text transform="translate(282.4,254.93) rotate(-90)" font-size="15.1" font-weight="bold">specific apoptosis [ % ]</text>
</g>
</svg>
</body></html>
